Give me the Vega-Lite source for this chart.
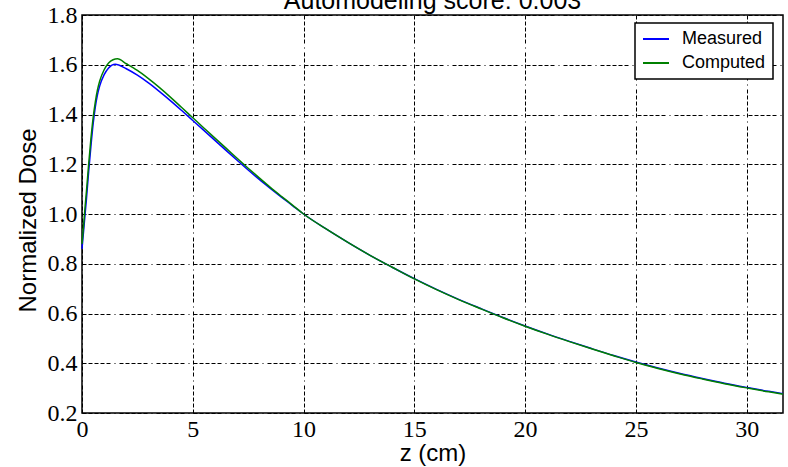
{
  "$schema": "https://vega.github.io/schema/vega-lite/v6.json",
  "width": 701,
  "height": 398,
  "autosize": {"type": "none"},
  "padding": {"left": 82, "top": 15, "right": 5, "bottom": 54},
  "title": {"text": "Automodeling score: 0.003", "fontSize": 25, "font": "Liberation Sans", "fontWeight": "normal", "offset": -31, "frame": "group", "baseline": "alphabetic", "anchor": "middle", "color": "black"},
  "config": {
    "view": {"stroke": "black", "strokeWidth": 1.5},
    "axis": {
      "domain": false,
      "ticks": false,
      "grid": true,
      "gridColor": "black",
      "gridOpacity": 1,
      "gridWidth": 1,
      "gridDash": [4, 2, 4, 2, 4, 2, 4, 2, 4, 4, 1, 4],
      "labelFont": "Liberation Serif",
      "labelFontSize": 24,
      "labelColor": "black",
      "labelFlush": false,
      "labelOverlap": false,
      "titleFont": "Liberation Sans",
      "titleFontSize": 24,
      "titleFontWeight": "normal",
      "titleColor": "black"
    },
    "legend": {"strokeWidth": 1.5}
  },
  "data": {
    "values": [
      {"z": 0.0, "dose": 0.86, "series": "Measured"},
      {"z": 0.05, "dose": 0.91, "series": "Measured"},
      {"z": 0.1, "dose": 0.96, "series": "Measured"},
      {"z": 0.15, "dose": 1.01, "series": "Measured"},
      {"z": 0.2, "dose": 1.06, "series": "Measured"},
      {"z": 0.3, "dose": 1.17, "series": "Measured"},
      {"z": 0.4, "dose": 1.27, "series": "Measured"},
      {"z": 0.5, "dose": 1.36, "series": "Measured"},
      {"z": 0.6, "dose": 1.43, "series": "Measured"},
      {"z": 0.7, "dose": 1.48, "series": "Measured"},
      {"z": 0.8, "dose": 1.515, "series": "Measured"},
      {"z": 1.0, "dose": 1.56, "series": "Measured"},
      {"z": 1.2, "dose": 1.587, "series": "Measured"},
      {"z": 1.5, "dose": 1.602, "series": "Measured"},
      {"z": 2.0, "dose": 1.584, "series": "Measured"},
      {"z": 2.5, "dose": 1.558, "series": "Measured"},
      {"z": 3.0, "dose": 1.527, "series": "Measured"},
      {"z": 3.5, "dose": 1.492, "series": "Measured"},
      {"z": 4.0, "dose": 1.455, "series": "Measured"},
      {"z": 4.5, "dose": 1.416, "series": "Measured"},
      {"z": 5.0, "dose": 1.376, "series": "Measured"},
      {"z": 5.5, "dose": 1.336, "series": "Measured"},
      {"z": 6.0, "dose": 1.296, "series": "Measured"},
      {"z": 6.5, "dose": 1.256, "series": "Measured"},
      {"z": 7.0, "dose": 1.216, "series": "Measured"},
      {"z": 7.5, "dose": 1.177, "series": "Measured"},
      {"z": 8.0, "dose": 1.139, "series": "Measured"},
      {"z": 8.5, "dose": 1.103, "series": "Measured"},
      {"z": 9.0, "dose": 1.068, "series": "Measured"},
      {"z": 9.5, "dose": 1.034, "series": "Measured"},
      {"z": 10, "dose": 1.0, "series": "Measured"},
      {"z": 11, "dose": 0.941, "series": "Measured"},
      {"z": 12, "dose": 0.886, "series": "Measured"},
      {"z": 13, "dose": 0.834, "series": "Measured"},
      {"z": 14, "dose": 0.786, "series": "Measured"},
      {"z": 15, "dose": 0.74, "series": "Measured"},
      {"z": 16, "dose": 0.697, "series": "Measured"},
      {"z": 17, "dose": 0.657, "series": "Measured"},
      {"z": 18, "dose": 0.62, "series": "Measured"},
      {"z": 19, "dose": 0.584, "series": "Measured"},
      {"z": 20, "dose": 0.55, "series": "Measured"},
      {"z": 21, "dose": 0.518, "series": "Measured"},
      {"z": 22, "dose": 0.488, "series": "Measured"},
      {"z": 23, "dose": 0.459, "series": "Measured"},
      {"z": 24, "dose": 0.431, "series": "Measured"},
      {"z": 25, "dose": 0.405, "series": "Measured"},
      {"z": 26, "dose": 0.381, "series": "Measured"},
      {"z": 27, "dose": 0.359, "series": "Measured"},
      {"z": 28, "dose": 0.339, "series": "Measured"},
      {"z": 29, "dose": 0.32, "series": "Measured"},
      {"z": 30, "dose": 0.303, "series": "Measured"},
      {"z": 31, "dose": 0.287, "series": "Measured"},
      {"z": 31.64, "dose": 0.278, "series": "Measured"},
      {"z": 0.0, "dose": 0.88, "series": "Computed"},
      {"z": 0.05, "dose": 0.93, "series": "Computed"},
      {"z": 0.1, "dose": 0.985, "series": "Computed"},
      {"z": 0.15, "dose": 1.04, "series": "Computed"},
      {"z": 0.2, "dose": 1.09, "series": "Computed"},
      {"z": 0.3, "dose": 1.2, "series": "Computed"},
      {"z": 0.4, "dose": 1.3, "series": "Computed"},
      {"z": 0.5, "dose": 1.385, "series": "Computed"},
      {"z": 0.6, "dose": 1.45, "series": "Computed"},
      {"z": 0.7, "dose": 1.5, "series": "Computed"},
      {"z": 0.8, "dose": 1.535, "series": "Computed"},
      {"z": 1.0, "dose": 1.58, "series": "Computed"},
      {"z": 1.2, "dose": 1.607, "series": "Computed"},
      {"z": 1.4, "dose": 1.62, "series": "Computed"},
      {"z": 1.6, "dose": 1.624, "series": "Computed"},
      {"z": 2.0, "dose": 1.604, "series": "Computed"},
      {"z": 2.5, "dose": 1.577, "series": "Computed"},
      {"z": 3.0, "dose": 1.544, "series": "Computed"},
      {"z": 3.5, "dose": 1.508, "series": "Computed"},
      {"z": 4.0, "dose": 1.469, "series": "Computed"},
      {"z": 4.5, "dose": 1.428, "series": "Computed"},
      {"z": 5.0, "dose": 1.387, "series": "Computed"},
      {"z": 5.5, "dose": 1.346, "series": "Computed"},
      {"z": 6.0, "dose": 1.305, "series": "Computed"},
      {"z": 6.5, "dose": 1.265, "series": "Computed"},
      {"z": 7.0, "dose": 1.224, "series": "Computed"},
      {"z": 7.5, "dose": 1.184, "series": "Computed"},
      {"z": 8.0, "dose": 1.145, "series": "Computed"},
      {"z": 8.5, "dose": 1.107, "series": "Computed"},
      {"z": 9.0, "dose": 1.071, "series": "Computed"},
      {"z": 9.5, "dose": 1.036, "series": "Computed"},
      {"z": 10, "dose": 1.0, "series": "Computed"},
      {"z": 11, "dose": 0.941, "series": "Computed"},
      {"z": 12, "dose": 0.886, "series": "Computed"},
      {"z": 13, "dose": 0.834, "series": "Computed"},
      {"z": 14, "dose": 0.786, "series": "Computed"},
      {"z": 15, "dose": 0.739, "series": "Computed"},
      {"z": 16, "dose": 0.696, "series": "Computed"},
      {"z": 17, "dose": 0.656, "series": "Computed"},
      {"z": 18, "dose": 0.619, "series": "Computed"},
      {"z": 19, "dose": 0.583, "series": "Computed"},
      {"z": 20, "dose": 0.549, "series": "Computed"},
      {"z": 21, "dose": 0.517, "series": "Computed"},
      {"z": 22, "dose": 0.487, "series": "Computed"},
      {"z": 23, "dose": 0.458, "series": "Computed"},
      {"z": 24, "dose": 0.43, "series": "Computed"},
      {"z": 25, "dose": 0.403, "series": "Computed"},
      {"z": 26, "dose": 0.379, "series": "Computed"},
      {"z": 27, "dose": 0.357, "series": "Computed"},
      {"z": 28, "dose": 0.337, "series": "Computed"},
      {"z": 29, "dose": 0.318, "series": "Computed"},
      {"z": 30, "dose": 0.301, "series": "Computed"},
      {"z": 31, "dose": 0.285, "series": "Computed"},
      {"z": 31.64, "dose": 0.276, "series": "Computed"}
    ]
  },
  "encoding": {
    "x": {
      "field": "z", "type": "quantitative",
      "scale": {"domain": [0, 31.64], "nice": false, "zero": false},
      "axis": {"values": [0, 5, 10, 15, 20, 25, 30], "title": "z (cm)", "labelPadding": 4, "titleX": 350.5, "titleY": 47, "titleBaseline": "alphabetic", "titleAlign": "center"}
    },
    "y": {
      "field": "dose", "type": "quantitative",
      "scale": {"domain": [0.2, 1.8], "nice": false, "zero": false},
      "axis": {"values": [0.2, 0.4, 0.6, 0.8, 1.0, 1.2, 1.4, 1.6, 1.8], "format": ".1f", "title": "Normalized Dose", "labelPadding": 5, "titleX": -47, "titleY": 205, "titleAngle": 270, "titleBaseline": "alphabetic", "titleAlign": "center"}
    },
    "color": {
      "field": "series", "type": "nominal",
      "scale": {"domain": ["Measured", "Computed"], "range": ["#0000ff", "#008000"]},
      "legend": {"orient": "none", "legendX": 553, "legendY": 8, "title": null, "symbolType": "M-1.86,0H1.86", "symbolSize": 196, "symbolStrokeWidth": 2, "symbolOffset": 5, "padding": 7, "labelOffset": 17, "labelFont": "Liberation Sans", "labelFontSize": 18, "labelColor": "black", "rowPadding": 6, "strokeColor": "black", "fillColor": "white", "cornerRadius": 0}
    }
  },
  "layer": [
    {"transform": [{"filter": "datum.series === 'Measured'"}], "mark": {"type": "line", "strokeWidth": 1.5, "interpolate": "monotone"}},
    {"transform": [{"filter": "datum.series === 'Computed'"}], "mark": {"type": "line", "strokeWidth": 1.5, "interpolate": "monotone"}}
  ]
}
